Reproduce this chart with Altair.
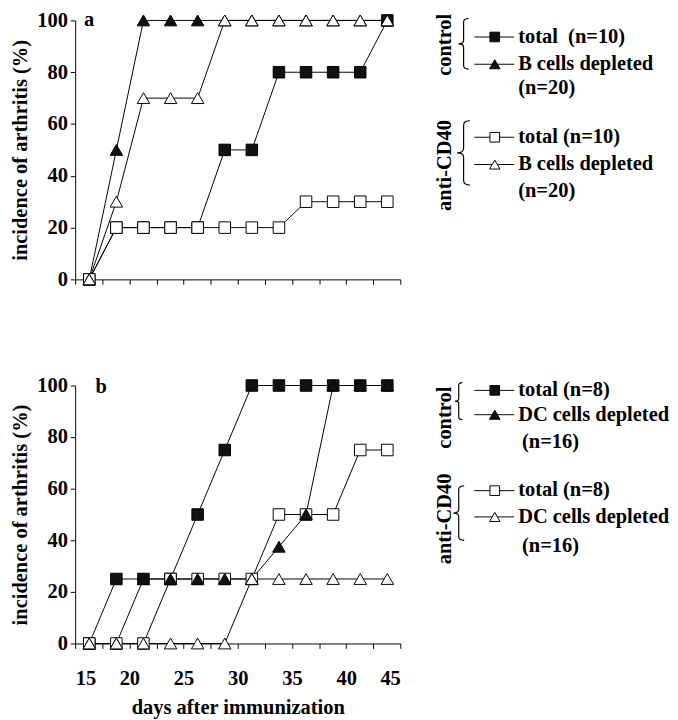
import altair as alt
import pandas as pd

# ---------------- data ----------------
days = [16.3, 18.8, 21.3, 23.8, 26.3, 28.8, 31.3, 33.8, 36.3, 38.8, 41.3, 43.8]

a_control_total = [0, 20, 20, 20, 20, 50, 50, 80, 80, 80, 80, 100]
a_control_dep = [0, 50, 100, 100, 100, 100, 100, 100, 100, 100, 100, 100]
a_anti_total = [0, 20, 20, 20, 20, 20, 20, 20, 30, 30, 30, 30]
a_anti_dep = [0, 30, 70, 70, 70, 100, 100, 100, 100, 100, 100, 100]

b_control_total = [0, 25, 25, 25, 50, 75, 100, 100, 100, 100, 100, 100]
b_control_dep = [0, 0, 25, 25, 25, 25, 25, 37.5, 50, 100, 100, 100]
b_anti_total = [0, 0, 0, 25, 25, 25, 25, 50, 50, 50, 75, 75]
b_anti_dep = [0, 0, 0, 0, 0, 0, 25, 25, 25, 25, 25, 25]

series_keys = ["control_total", "anti_total", "control_dep", "anti_dep"]  # draw order

a_legend = ["total\u00a0 (n=10)", "B cells depleted", "(n=20)",
            "total (n=10)", "B cells depleted", "(n=20)"]
b_legend = ["total (n=8)", "DC cells depleted", "(n=16)",
            "total (n=8)", "DC cells depleted", "(n=16)"]
group_labels = ["control", "anti-CD40"]
panel_tags = ["a", "b"]

x_ticks = [15 + 2.5 * i for i in range(13)]
y_ticks = [0, 20, 40, 60, 80, 100]

y_title = "incidence of arthritis (%)"
x_title = "days after immunization"

# ---------------- styling ----------------
FONT = "'Liberation Serif', 'Times New Roman', 'DejaVu Serif', serif"
styles = {
    "control_total": ("square", "#111111", 140),
    "anti_total": ("square", "white", 140),
    "control_dep": ("triangle-up", "#111111", 165),
    "anti_dep": ("triangle-up", "white", 165),
}
BRACE = "M0.2,-1 Q0,-1 0,-0.86 L0,-0.14 Q0,0 -0.2,0 Q0,0 0,0.14 L0,0.86 Q0,1 0.2,1"
one = pd.DataFrame({"k": [0]})


def long_df(vals):
    rows = []
    for key, v in zip(["control_total", "control_dep", "anti_total", "anti_dep"], vals):
        for d, y in zip(days, v):
            rows.append({"day": d, "value": y, "series": key})
    return pd.DataFrame(rows)


def txt(s, x, y, size=21, angle=0, align="left", weight="bold"):
    return alt.Chart(one).mark_text(
        text=s, font=FONT, fontSize=size, fontWeight=weight, color="black",
        align=align, baseline="middle", angle=angle
    ).encode(x=alt.value(x), y=alt.value(y))


def legend_row(key, y, label, x0, x1, xm, xt):
    shape, fill, size = styles[key]
    return [
        alt.Chart(one).mark_rule(color="black", strokeWidth=1).encode(
            x=alt.value(x0), x2=alt.value(x1), y=alt.value(y)),
        alt.Chart(one).mark_point(shape=shape, filled=True, fill=fill, stroke="black",
                                  strokeWidth=1, size=size * 0.7, opacity=1).encode(
            x=alt.value(xm), y=alt.value(y)),
        txt(label, xt, y),
    ]


def brace(x, y, h):
    return alt.Chart(one).mark_point(shape=BRACE, filled=False, stroke="black",
                                     strokeWidth=1.2, size=h * h, opacity=1).encode(
        x=alt.value(x), y=alt.value(y))


def panel(vals, W, H, show_labels, leg):
    df = long_df(vals)
    if show_labels:
        xaxis = alt.Axis(values=x_ticks, title=x_title,
                         labelExpr="datum.value % 5 == 0 ? datum.label : ''")
    else:
        xaxis = alt.Axis(values=x_ticks, labels=False, title=None)
    X = alt.X("day:Q", scale=alt.Scale(domain=[15, 45], nice=False, zero=False), axis=xaxis)
    Y = alt.Y("value:Q", scale=alt.Scale(domain=[0, 100], nice=False),
              axis=alt.Axis(values=y_ticks, title=y_title))
    base = alt.Chart(df)
    layers = [base.mark_line(color="black", strokeWidth=1).encode(
        x=X, y=Y, detail="series:N")]
    for key in series_keys:
        shape, fill, size = styles[key]
        layers.append(base.transform_filter(alt.datum.series == key).mark_point(
            shape=shape, filled=True, fill=fill, stroke="black", strokeWidth=1,
            size=size, opacity=1).encode(x=X, y=Y))
    layers += leg
    return alt.layer(*layers).properties(width=W, height=H)


def legend_layers(labels, tag, tagpos, ys, grp_y, br, ind3):
    xs = dict(x0=410, x1=451, xm=431, xt=455)
    L = [txt(tag, tagpos[0], tagpos[1])]
    L += [txt(group_labels[0], 380, grp_y[0], angle=270, align="center"),
          txt(group_labels[1], 380, grp_y[1], angle=270, align="center")]
    L += [brace(*b) for b in br]
    L += legend_row("control_total", ys[0], labels[0], **xs)
    L += legend_row("control_dep", ys[1], labels[1], **xs)
    L.append(txt(labels[2], 455 + ind3, ys[2]))
    L += legend_row("anti_total", ys[3], labels[3], **xs)
    L += legend_row("anti_dep", ys[4], labels[4], **xs)
    L.append(txt(labels[5], 455 + ind3, ys[5]))
    return L


HA, HB = 266, 265
leg_a = legend_layers(a_legend, panel_tags[0], (9, 0),
                      [17, 45, 70, 120, 148, 175], [25, 149],
                      [(399, 24, 52), (399, 136, 66)], 0)
leg_b = legend_layers(b_legend, panel_tags[1], (21, 2),
                      [5, 30, 58, 108, 135, 165], [33, 137],
                      [(394, 16, 38), (394, 131, 56)], 4)

pa = panel([a_control_total, a_control_dep, a_anti_total, a_anti_dep], 334, HA, False, leg_a)
pb = panel([b_control_total, b_control_dep, b_anti_total, b_anti_dep], 334, HB, True, leg_b)

chart = alt.vconcat(pa, pb, spacing=88).properties(
    padding={"left": 2, "top": -8, "right": 0, "bottom": 0}
).configure_view(
    stroke=None
).configure_axis(
    grid=False, domainColor="black", domainWidth=1, tickColor="black", tickWidth=1,
    tickSize=5, labelFont=FONT, labelFontSize=21, labelFontWeight="bold",
    labelColor="black", labelPadding=3, titleFont=FONT, titleFontSize=21,
    titleFontWeight="bold", titleColor="black", titlePadding=6
).configure_axisX(labelPadding=20, titlePadding=9)

chart.save("out.html", embed_options={"renderer": "svg", "actions": False})
